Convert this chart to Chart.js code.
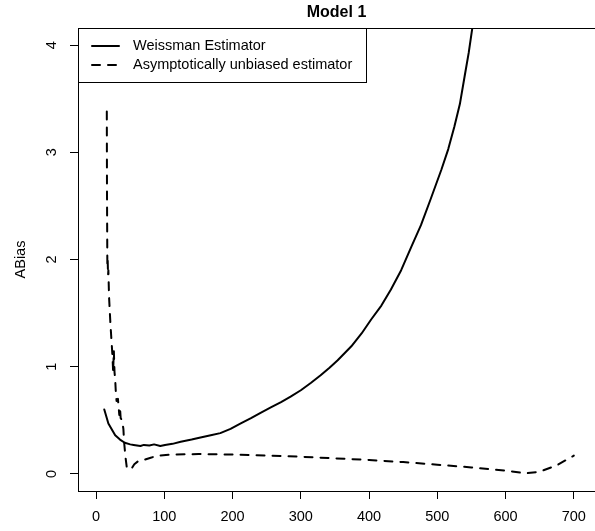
<!DOCTYPE html>
<html>
<head>
<meta charset="utf-8">
<script src="https://cdn.jsdelivr.net/npm/chart.js@4.4.1/dist/chart.umd.min.js"></script>
<style>
    html, body { margin: 0; padding: 0; background: #fff; }
</style>
</head>
<body>
<canvas id="grafico" width="595" height="531"></canvas>
<script>
// DATOS
const kWeissman = [12, 18, 28, 35, 42, 50, 55, 65, 70, 78, 85, 94, 101, 112, 124, 140, 153, 168, 182, 197, 212, 227, 241, 256, 271, 285, 300, 315, 329, 342, 354, 374, 389, 403, 418, 432, 447, 462, 476, 490, 506, 516, 525, 533, 540, 546, 551, 562];
const abiasWeissman = [0.60, 0.47, 0.36, 0.32, 0.29, 0.275, 0.27, 0.26, 0.27, 0.265, 0.275, 0.26, 0.27, 0.28, 0.30, 0.32, 0.34, 0.36, 0.38, 0.42, 0.47, 0.52, 0.57, 0.62, 0.67, 0.72, 0.78, 0.85, 0.92, 0.99, 1.06, 1.19, 1.31, 1.44, 1.57, 1.72, 1.90, 2.12, 2.32, 2.56, 2.84, 3.03, 3.24, 3.45, 3.71, 3.93, 4.15, 4.60];

const kInsesgado = [15.7, 16, 16.5, 17, 17.5, 18, 19, 21, 22, 24, 25, 26, 27, 28, 29, 30, 32, 34, 35, 36, 38, 40, 41, 43, 45, 48, 52, 56, 62, 70, 80, 90, 110, 150, 200, 250, 300, 350, 400, 450, 500, 550, 600, 630, 650, 675, 700];
const abiasInsesgado = [3.38, 2.60, 1.95, 2.00, 1.85, 1.90, 1.65, 1.40, 1.30, 1.10, 0.95, 1.15, 0.95, 0.88, 0.75, 0.68, 0.70, 0.55, 0.62, 0.52, 0.50, 0.42, 0.30, 0.16, 0.06, 0.04, 0.05, 0.09, 0.12, 0.13, 0.15, 0.17, 0.18, 0.185, 0.18, 0.17, 0.16, 0.145, 0.13, 0.11, 0.085, 0.06, 0.03, 0.005, 0.02, 0.08, 0.17];

const ticksX = [0, 100, 200, 300, 400, 500, 600, 700];
const ticksY = [0, 1, 2, 3, 4];

const etiquetas = ["Weissman Estimator", "Asymptotically unbiased estimator"];
const fuente = "'Liberation Sans', Arial, Helvetica, sans-serif";

function aPuntos(xs, ys) {
    return xs.map((x, i) => ({ x: x, y: ys[i] }));
}

// caja, etiquetas del eje y rotadas y leyenda
const marcoYLeyenda = {
    id: 'marcoYLeyenda',
    afterDraw(chart) {
        const ctx = chart.ctx;
        const area = chart.chartArea;
        const ejeY = chart.scales.y;
        ctx.save();

        ctx.strokeStyle = '#000';
        ctx.lineWidth = 1;
        ctx.setLineDash([]);
        ctx.strokeRect(area.left + 0.5, area.top + 0.5, area.right - area.left + 6, area.bottom - area.top);

        ctx.fillStyle = '#000';
        ctx.font = `14.5px ${fuente}`;
        ctx.textAlign = 'center';
        ctx.textBaseline = 'middle';
        for (let v of ticksY) {
            let py = ejeY.getPixelForValue(v);
            ctx.save();
            ctx.translate(52, py);
            ctx.rotate(-Math.PI / 2);
            ctx.fillText(String(v), 0, 0);
            ctx.restore();
        }

        // leyenda
        let lx = area.left + 0.5;
        let ly = area.top + 0.5;
        ctx.fillStyle = '#fff';
        ctx.fillRect(lx, ly, 288, 54);
        ctx.strokeRect(lx, ly, 288, 54);
        ctx.textAlign = 'left';
        chart.data.datasets.forEach((ds, i) => {
            let fy = area.top + 18 + i * 19;
            ctx.strokeStyle = ds.borderColor;
            ctx.lineWidth = ds.borderWidth;
            ctx.lineCap = 'round';
            ctx.setLineDash(ds.borderDash || []);
            ctx.beginPath();
            ctx.moveTo(area.left + 14, fy);
            ctx.lineTo(area.left + 41, fy);
            ctx.stroke();
            ctx.setLineDash([]);
            ctx.fillStyle = '#000';
            ctx.fillText(ds.label, area.left + 55, fy);
        });
        ctx.restore();
    }
};

const config = {
    type: 'line',
    data: {
        datasets: [{
            label: etiquetas[0],
            data: aPuntos(kWeissman, abiasWeissman),
            borderColor: '#000',
            borderWidth: 2,
            pointRadius: 0,
            tension: 0,
            borderCapStyle: 'round',
            borderJoinStyle: 'round'
        }, {
            label: etiquetas[1],
            data: aPuntos(kInsesgado, abiasInsesgado),
            borderColor: '#000',
            borderWidth: 2,
            borderDash: [8, 8],
            pointRadius: 0,
            tension: 0,
            borderCapStyle: 'round',
            borderJoinStyle: 'round'
        }]
    },
    options: {
        responsive: false,
        animation: false,
        devicePixelRatio: 1,
        layout: { padding: 0 },
        plugins: {
            legend: { display: false },
            tooltip: { enabled: false },
            title: {
                display: true,
                text: 'Model 1',
                fullSize: false,
                color: '#000',
                font: { family: fuente, size: 16, weight: 'bold' },
                padding: { top: 3, bottom: 5.8 }
            }
        },
        scales: {
            x: {
                type: 'linear',
                min: -26.5,
                max: 731,
                afterBuildTicks: (eje) => { eje.ticks = ticksX.map(v => ({ value: v })); },
                afterFit: (eje) => { eje.height = 40; },
                border: { display: false },
                grid: { drawOnChartArea: false, drawTicks: true, tickLength: 8, color: '#000', lineWidth: 1 },
                ticks: { color: '#000', padding: 9, maxRotation: 0, font: { family: fuente, size: 14.5 } }
            },
            y: {
                type: 'linear',
                min: -0.16,
                max: 4.16,
                afterBuildTicks: (eje) => { eje.ticks = ticksY.map(v => ({ value: v })); },
                afterFit: (eje) => { eje.width = 78; },
                border: { display: false },
                grid: { drawOnChartArea: false, drawTicks: true, tickLength: 8, color: '#000', lineWidth: 1 },
                ticks: { display: false },
                title: {
                    display: true,
                    text: 'ABias',
                    color: '#000',
                    font: { family: fuente, size: 14.5 },
                    padding: { top: 12, bottom: 0 }
                }
            }
        }
    },
    plugins: [marcoYLeyenda]
};

const grafico = new Chart(document.getElementById('grafico'), config);
</script>
</body>
</html>
